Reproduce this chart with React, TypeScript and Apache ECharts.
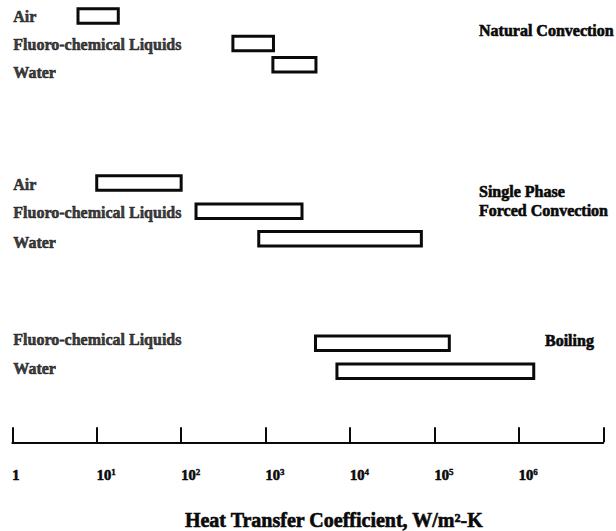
import React, { useEffect, useRef } from "react";
import * as echarts from "echarts";

// Heat transfer coefficient ranges (W/m²-K) by cooling mode and fluid
const rowLabels = [
  "Air",
  "Fluoro-chemical Liquids",
  "Water",
  "Air",
  "Fluoro-chemical Liquids",
  "Water",
  "Fluoro-chemical Liquids",
  "Water",
];
const lowValues = [6, 410, 1220, 10, 150, 830, 3900, 7000];
const highValues = [18, 1240, 3950, 100, 2700, 70000, 150000, 1500000];
const groupTitles = ["Natural Convection", "Single Phase\nForced Convection", "Boiling"];
const tickExponents = [0, 1, 2, 3, 4, 5, 6, 7];
const axisTitle = "Heat Transfer Coefficient, W/m²-K";

// Vertical layout: row positions on a hidden vertical axis (1 unit ≈ one text line)
const boxRows = [0, 1.0, 1.77, 6.07, 7.1, 8.1, 11.9, 12.92];
const labelRows = [0, 1.05, 2.07, 6.11, 7.16, 8.22, 11.75, 12.8];

const FONT = "'Liberation Serif', 'Times New Roman', serif";
const INK = "#0a0a0a";
// a thin outline in the text colour gives the heavy, print-like strokes
const heavy = { textBorderColor: INK, textBorderWidth: 0.6 };

export default function App() {
  const ref = useRef<HTMLDivElement>(null);

  useEffect(() => {
    if (!ref.current) return;
    const chart = echarts.init(ref.current, null, { renderer: "svg" });

    const boxData = lowValues.map((lo, i) => [lo, highValues[i], boxRows[i]]);
    const labelData = rowLabels.map((name, i) => [1, labelRows[i], name]);

    const minExp = tickExponents[0];
    const maxExp = tickExponents[tickExponents.length - 1];

    const titleStyle = {
      fontFamily: FONT,
      fontWeight: "bold",
      fontSize: 16,
      fill: INK,
      stroke: INK,
      lineWidth: 0.6,
      verticalAlign: "middle",
      lineHeight: 19,
    };

    chart.setOption({
      animation: false,
      backgroundColor: "#ffffff",
      grid: {
        left: 12.3,
        right: 12.7,
        top: 16,
        bottom: 88.7,
        containLabel: false,
        outerBoundsMode: "none",
      },
      xAxis: {
        type: "log",
        logBase: 10,
        position: "bottom",
        min: Math.pow(10, minExp),
        max: Math.pow(10, maxExp),
        splitLine: { show: false },
        minorTick: { show: false },
        axisLine: { show: true, onZero: false, lineStyle: { color: INK, width: 2 } },
        axisTick: { show: true, inside: true, length: 15, lineStyle: { color: INK, width: 2 } },
        axisLabel: {
          interval: 0,
          align: "left",
          margin: 25,
          showMinLabel: true,
          showMaxLabel: true,
          formatter: (v: number) => {
            const e = Math.round(Math.log10(v));
            if (e === maxExp) return "";
            if (e === 0) return "{b|1}";
            return "{b|10}{s|" + e + "}";
          },
          rich: {
            b: { fontFamily: FONT, fontWeight: "bold", fontSize: 14.5, color: INK, lineHeight: 16, ...heavy },
            s: { fontFamily: FONT, fontWeight: "bold", fontSize: 9, color: INK, verticalAlign: "top", lineHeight: 16, textBorderColor: INK, textBorderWidth: 0.4 },
          },
        },
        name: axisTitle,
        nameLocation: "middle",
        nameGap: 68,
        nameTextStyle: {
          fontFamily: FONT,
          fontWeight: "bold",
          fontSize: 20,
          color: INK,
          padding: [0, 0, 0, 52],
          ...heavy,
        },
      },
      yAxis: {
        type: "value",
        inverse: true,
        min: 0,
        max: 15.5,
        show: false,
      },
      series: [
        {
          type: "custom",
          clip: false,
          encode: { x: [0, 1], y: 2 },
          data: boxData,
          renderItem: (_params: any, api: any) => {
            const p0 = api.coord([api.value(0), api.value(2)]);
            const p1 = api.coord([api.value(1), api.value(2)]);
            const h = 14.5;
            return {
              type: "rect",
              shape: { x: p0[0], y: p0[1] - h / 2, width: p1[0] - p0[0], height: h },
              style: { fill: "#ffffff", stroke: INK, lineWidth: 3 },
            };
          },
        },
        {
          type: "scatter",
          clip: false,
          silent: true,
          symbolSize: 1,
          itemStyle: { color: "transparent" },
          data: labelData,
          label: {
            show: true,
            position: "right",
            distance: 0.5,
            formatter: (p: any) => p.data[2],
            fontFamily: FONT,
            fontWeight: "bold",
            fontSize: 16,
            color: INK,
            ...heavy,
          },
        },
      ],
      graphic: [
        { type: "text", x: 479, y: 30, style: { text: groupTitles[0], ...titleStyle } },
        { type: "text", x: 479, y: 201.2, style: { text: groupTitles[1], ...titleStyle } },
        { type: "text", x: 545, y: 340, style: { text: groupTitles[2], ...titleStyle } },
      ],
    });

    return () => chart.dispose();
  }, []);

  return (
    <div
      ref={ref}
      style={{ position: "fixed", left: 0, top: 0, width: 616, height: 531, background: "#ffffff" }}
    />
  );
}
